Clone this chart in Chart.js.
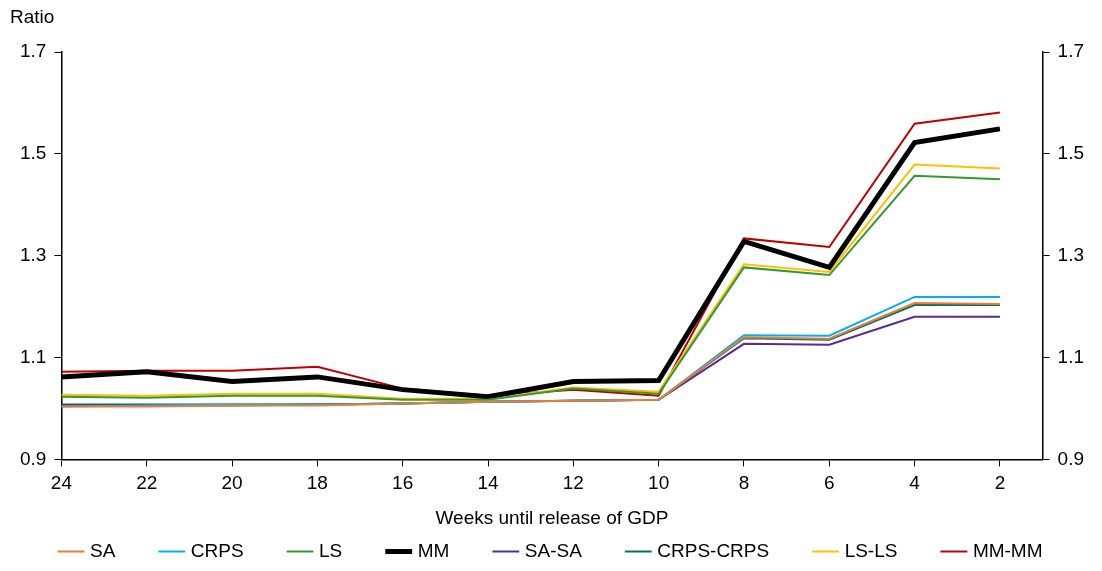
<!DOCTYPE html>
<html lang="en">
<head>
  <meta charset="UTF-8">
  <title>Ratio chart</title>
  <script src="https://cdn.jsdelivr.net/npm/chart.js"></script>
  <style>
    body { margin: 0; background: #fff; }
    #wrap { width: 1102px; height: 571px; }
  </style>
</head>
<body>
  <div id="wrap"><canvas id="ratioChart"></canvas></div>

  <script>
    // weeks until release, left to right
    const weeks = [24, 22, 20, 18, 16, 14, 12, 10, 8, 6, 4, 2];
    const yTicks = [0.9, 1.1, 1.3, 1.5, 1.7];

    const sa       = [1.004, 1.004, 1.006, 1.006, 1.010, 1.013, 1.015, 1.017, 1.140, 1.137, 1.207, 1.205];
    const crps     = [1.004, 1.006, 1.008, 1.008, 1.010, 1.013, 1.015, 1.017, 1.144, 1.143, 1.219, 1.219];
    const ls       = [1.023, 1.021, 1.025, 1.025, 1.017, 1.017, 1.039, 1.029, 1.277, 1.262, 1.457, 1.450];
    const mm       = [1.062, 1.072, 1.053, 1.062, 1.037, 1.023, 1.053, 1.055, 1.328, 1.277, 1.522, 1.549];
    const saSa     = [1.006, 1.006, 1.006, 1.008, 1.010, 1.013, 1.015, 1.017, 1.127, 1.125, 1.180, 1.180];
    const crpsCrps = [1.008, 1.008, 1.008, 1.008, 1.010, 1.013, 1.015, 1.017, 1.138, 1.135, 1.203, 1.203];
    const lsLs     = [1.027, 1.025, 1.029, 1.029, 1.019, 1.019, 1.041, 1.033, 1.283, 1.268, 1.479, 1.471];
    const mmMm     = [1.072, 1.074, 1.074, 1.082, 1.039, 1.025, 1.037, 1.025, 1.334, 1.317, 1.559, 1.581];

    const FONT = 'Liberation Sans, Arial, sans-serif';

    function series(label, values, color, width) {
      return {
        label: label,
        data: values.map((v, i) => ({ x: weeks[i], y: v })),
        borderColor: color,
        backgroundColor: color,
        borderWidth: width,
        pointRadius: 0,
        tension: 0,
        fill: false
      };
    }

    const ratioTitle = {
      id: 'ratioTitle',
      afterDraw(chart) {
        const ctx = chart.ctx;
        ctx.save();
        ctx.font = '19px ' + FONT;
        ctx.fillStyle = '#000';
        ctx.textBaseline = 'top';
        ctx.fillText('Ratio', 10, 8);
        ctx.restore();
      }
    };

    const yAxis = (pos) => ({
      type: 'linear',
      position: pos,
      min: 0.9,
      max: 1.7,
      afterBuildTicks: axis => { axis.ticks = yTicks.map(v => ({ value: v })); },
      ticks: { color: '#000', font: { family: FONT, size: 19 }, padding: 8,
               callback: v => v.toFixed(1) },
      grid: { display: true, drawOnChartArea: false, tickLength: 7, color: '#000' },
      border: { color: '#000', width: 1.5 }
    });

    new Chart(document.getElementById('ratioChart'), {
      type: 'line',
      data: {
        datasets: [
          series('SA', sa, '#ED7D31', 2),
          series('CRPS', crps, '#00B0F0', 2),
          series('LS', ls, '#339933', 2),
          series('MM', mm, '#000000', 5),
          series('SA-SA', saSa, '#582C8F', 2),
          series('CRPS-CRPS', crpsCrps, '#00706A', 2),
          series('LS-LS', lsLs, '#FFC000', 2),
          series('MM-MM', mmMm, '#C00000', 2)
        ]
      },
      options: {
        responsive: true,
        maintainAspectRatio: false,
        animation: false,
        layout: { padding: { top: 52, left: 12, right: 10, bottom: 0 } },
        scales: {
          x: {
            type: 'linear',
            reverse: true,
            min: 1,
            max: 24,
            afterBuildTicks: axis => { axis.ticks = weeks.map(v => ({ value: v })); },
            ticks: { color: '#000', font: { family: FONT, size: 19 }, padding: 6, maxRotation: 0 },
            grid: { display: true, drawOnChartArea: false, tickLength: 7, color: '#000' },
            border: { color: '#000', width: 1.5 },
            title: { display: true, text: 'Weeks until release of GDP', color: '#000',
                     font: { family: FONT, size: 19 }, padding: { top: 6, bottom: 2 } }
          },
          y: yAxis('left'),
          y2: yAxis('right')
        },
        plugins: {
          legend: {
            position: 'bottom',
            labels: {
              color: '#000',
              font: { family: FONT, size: 19 },
              usePointStyle: true,
              pointStyle: 'line',
              boxWidth: 38,
              padding: 10,
              generateLabels: chart => {
                const base = Chart.defaults.plugins.legend.labels.generateLabels(chart);
                return base.map((l, i) => Object.assign(l, {
                  text: i < base.length - 1 ? l.text + '       ' : l.text
                }));
              }
            }
          },
          tooltip: { enabled: false }
        }
      },
      plugins: [ratioTitle]
    });
  </script>
</body>
</html>
